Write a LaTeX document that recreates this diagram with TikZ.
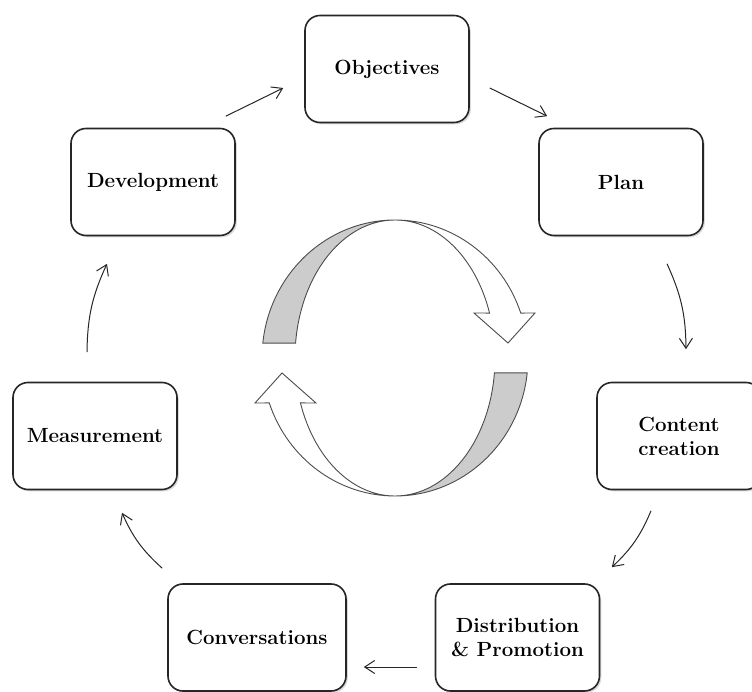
\documentclass[tikz,border=0pt]{standalone}
\usepackage{fontspec}
\usetikzlibrary{arrows.meta, shadows}

\tikzset{
  stage/.style={draw=black!85, line width=1.6pt, rounded corners=15pt, fill=white,
    minimum width=164pt, minimum height=107pt, align=center,
    font=\fontsize{20.5}{24}\selectfont\bfseries,
    drop shadow={shadow xshift=1.8pt, shadow yshift=-1.8pt, opacity=0.3}},
  flow/.style={->, >={Straight Barb[length=10pt,width=13pt]}, draw=black!85, line width=1pt},
  turnline/.style={draw=black!70, line width=0.9pt},
}

\begin{document}
\begin{tikzpicture}[x=1pt, y=1pt]
\useasboundingbox (0,0) rectangle (752,691);

% stages
\node[stage] (obj) at (387,622) {Objectives};
\node[stage] (plan) at (621,509) {Plan};
\node[stage] (cont) at (679,255) {Content\\creation};
\node[stage] (dist) at (517.5,53.5) {Distribution\\\& Promotion};
\node[stage, minimum width=178pt] (conv) at (257,53.5) {Conversations};
\node[stage] (meas) at (95,255) {Measurement};
\node[stage] (dev) at (153,509) {Development};

% cycle arrows between the stages
\draw[flow] ([xshift=-10pt,yshift=11.5pt]dev.north east) -- ([xshift=-21pt,yshift=-19pt]obj.west);
\draw[flow] ([xshift=20pt,yshift=-19pt]obj.east) -- ([xshift=9pt,yshift=11.5pt]plan.north west);
\draw[flow] ([xshift=46pt,yshift=-27.5pt]plan.south) to[bend left=12] ([xshift=7pt,yshift=32.5pt]cont.north);
\draw[flow] ([xshift=-28pt,yshift=-20.5pt]cont.south) to[bend left=12] ([xshift=11.5pt,yshift=16pt]dist.north east);
\draw[flow] ([xshift=-17.5pt,yshift=-29.5pt]dist.west) -- ([xshift=17pt,yshift=-29.5pt]conv.east);
\draw[flow] ([xshift=-5pt,yshift=15pt]conv.north west) to[bend left=12] ([xshift=27pt,yshift=-22.5pt]meas.south);
\draw[flow] ([xshift=-8pt,yshift=29.5pt]meas.north) to[bend left=12] ([xshift=-46pt,yshift=-27.5pt]dev.south);

% two curved block arrows in the middle
\foreach \turn in {0,180} {
  \begin{scope}[shift={(395,333)}, rotate=\turn]
    \filldraw[turnline, fill=black!20] (173.8:133 and 138)
      arc[start angle=173.8, end angle=90, x radius=133, y radius=138]
      arc[start angle=90, end angle=173.8, x radius=100, y radius=138] -- cycle;
    \filldraw[turnline, fill=white] (0,138)
      arc[start angle=90, end angle=19, x radius=133, y radius=138]
      -- (140,45) -- (113,15) -- (79,45) -- (19:100 and 138)
      arc[start angle=19, end angle=90, x radius=100, y radius=138] -- cycle;
  \end{scope}
}
\end{tikzpicture}
\end{document}
